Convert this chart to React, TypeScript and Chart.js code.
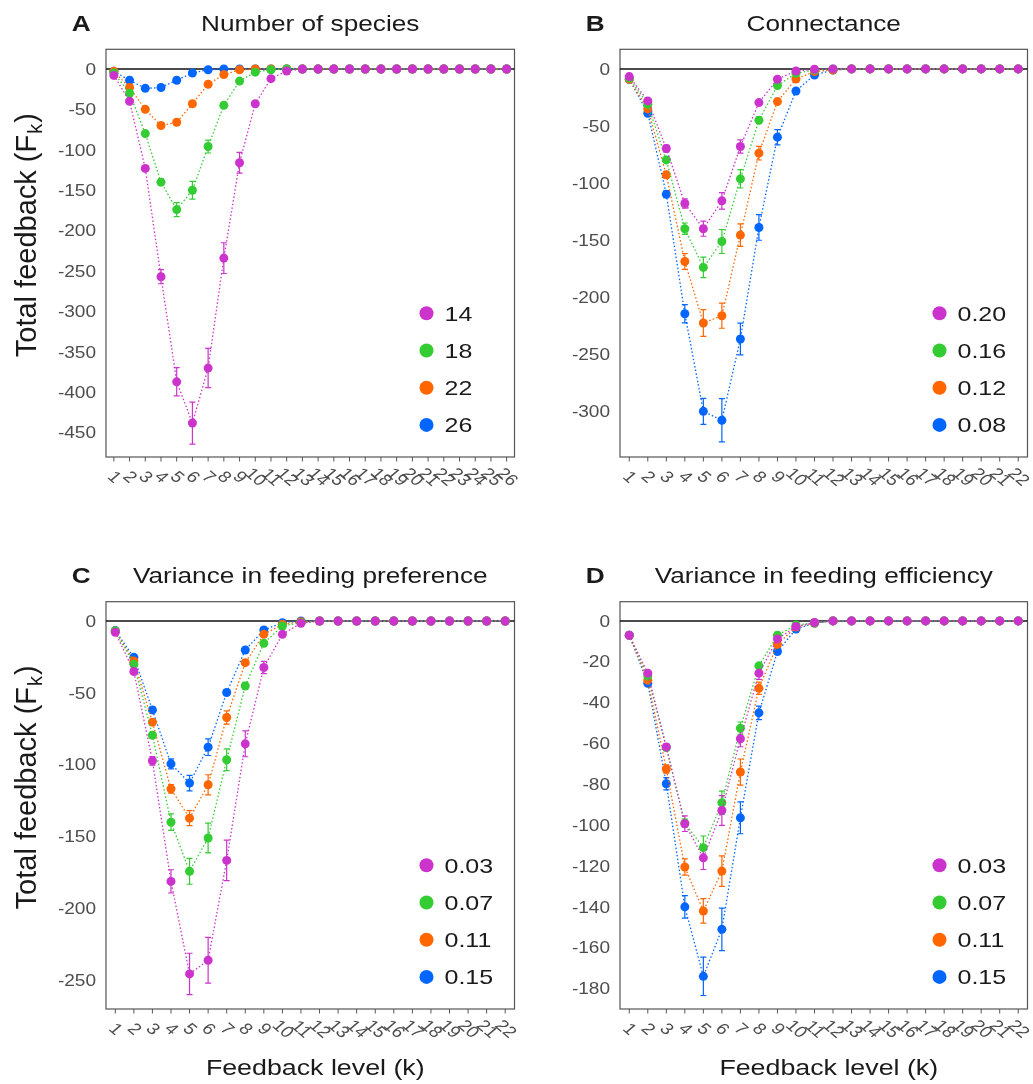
import React, { useEffect, useRef } from "react";
import { Chart, registerables } from "chart.js";
Chart.register(...registerables);

const W = 1033;
const H = 1084;
const PURPLE = "#CC33CC";
const GREEN = "#33CC33";
const ORANGE = "#FF6600";
const BLUE = "#0066FF";
const SERIES_COLORS = [PURPLE, GREEN, ORANGE, BLUE];

// ---------- Panel A: Number of species ----------
const levels26 = ["1","2","3","4","5","6","7","8","9","10","11","12","13","14","15","16","17","18","19","20","21","22","23","24","25","26"];
const speciesNames = ["14", "18", "22", "26"];
const sp14 = [-8, -40, -123, -257, -387, -438, -370, -234, -116, -43, -12, -2.5, 0, 0, 0, 0, 0, 0, 0, 0, 0, 0, 0, 0, 0, 0];
const sp14Err = [1, 2, 3, 8.7, 17.5, 26, 24.3, 19, 12.8, 2, 1, 0, 0, 0, 0, 0, 0, 0, 0, 0, 0, 0, 0, 0, 0, 0];
const sp18 = [-5, -30, -80, -140, -174, -150, -96, -45, -15, -4, -1, 0, 0, 0, 0, 0, 0, 0, 0, 0, 0, 0, 0, 0, 0, 0];
const sp18Err = [0.5, 1, 2, 4, 8.6, 11, 8, 3, 1.5, 1, 0, 0, 0, 0, 0, 0, 0, 0, 0, 0, 0, 0, 0, 0, 0, 0];
const sp22 = [-3, -23, -50, -70, -66, -43, -19, -7, -1, 0, 0, 0, 0, 0, 0, 0, 0, 0, 0, 0, 0, 0, 0, 0, 0, 0];
const sp22Err = [0.5, 1, 2, 2.5, 2.5, 2, 1.5, 1, 0.5, 0, 0, 0, 0, 0, 0, 0, 0, 0, 0, 0, 0, 0, 0, 0, 0, 0];
const sp26 = [-3, -14, -24, -23, -14, -5, -1, 0, 0, 0, 0, 0, 0, 0, 0, 0, 0, 0, 0, 0, 0, 0, 0, 0, 0, 0];
const sp26Err = [0.5, 1, 1.5, 1.5, 1.5, 1, 0.5, 0, 0, 0, 0, 0, 0, 0, 0, 0, 0, 0, 0, 0, 0, 0, 0, 0, 0, 0];
const ticksA = [0, -50, -100, -150, -200, -250, -300, -350, -400, -450];

// ---------- Panel B: Connectance ----------
const levels22 = ["1","2","3","4","5","6","7","8","9","10","11","12","13","14","15","16","17","18","19","20","21","22"];
const connNames = ["0.20", "0.16", "0.12", "0.08"];
const con020 = [-6.7, -28, -69.7, -117.9, -140, -115.6, -68, -29.5, -9, -1.8, -0.3, 0, 0, 0, 0, 0, 0, 0, 0, 0, 0, 0];
const con020Err = [0.5, 1, 3, 4, 6.6, 7.3, 5.8, 2, 1, 0, 0, 0, 0, 0, 0, 0, 0, 0, 0, 0, 0, 0];
const con016 = [-8, -30.9, -79.7, -140, -173.9, -151.2, -96.3, -44.9, -14.6, -3.8, -0.9, 0, 0, 0, 0, 0, 0, 0, 0, 0, 0, 0];
const con016Err = [0.5, 1, 2, 5, 9, 10.5, 8, 3, 2, 0.5, 0, 0, 0, 0, 0, 0, 0, 0, 0, 0, 0, 0];
const con012 = [-9, -35, -92.8, -168.7, -222.6, -216.2, -145.6, -73.8, -28.6, -8.8, -2.3, -0.9, 0, 0, 0, 0, 0, 0, 0, 0, 0, 0];
const con012Err = [0.5, 1, 3, 7, 11.7, 11, 9.8, 6, 2, 1, 0, 0, 0, 0, 0, 0, 0, 0, 0, 0, 0, 0];
const con008 = [-9, -38.8, -109.7, -214.5, -300, -307.8, -236.6, -138.9, -59.8, -19.3, -5.3, -0.9, 0, 0, 0, 0, 0, 0, 0, 0, 0, 0];
const con008Err = [0.5, 1.5, 3, 8, 11.4, 19, 13.9, 11.2, 6.7, 2, 0.5, 0, 0, 0, 0, 0, 0, 0, 0, 0, 0, 0];
const ticksB = [0, -50, -100, -150, -200, -250, -300];

// ---------- Panel C: Variance in feeding preference ----------
const prefNames = ["0.03", "0.07", "0.11", "0.15"];
const pref003 = [-7.9, -35.2, -97.3, -181.2, -245.6, -236.1, -166.6, -85.5, -32.4, -9.3, -1.6, 0, 0, 0, 0, 0, 0, 0, 0, 0, 0, 0];
const pref003Err = [0.5, 1, 3, 8.1, 14.4, 15.9, 14.1, 9, 4.3, 1, 0, 0, 0, 0, 0, 0, 0, 0, 0, 0, 0, 0];
const pref007 = [-7, -30.1, -79.5, -140, -174.2, -151, -96.6, -45.2, -15.5, -3.5, -1.2, 0, 0, 0, 0, 0, 0, 0, 0, 0, 0, 0];
const pref007Err = [0.5, 1, 2, 5.7, 9, 10.3, 7.6, 2.5, 1, 0.5, 0, 0, 0, 0, 0, 0, 0, 0, 0, 0, 0, 0];
const pref011 = [-7, -27.8, -70.4, -116.8, -137.2, -114, -67.2, -29, -9.3, -2.3, -0.5, 0, 0, 0, 0, 0, 0, 0, 0, 0, 0, 0];
const pref011Err = [0.5, 1, 2, 3, 5.2, 7, 4.6, 2, 1, 0.5, 0, 0, 0, 0, 0, 0, 0, 0, 0, 0, 0, 0];
const pref015 = [-6.7, -25.3, -61.9, -99.4, -112.8, -87.8, -49.8, -20.2, -6.3, -1.2, 0, 0, 0, 0, 0, 0, 0, 0, 0, 0, 0, 0];
const pref015Err = [0.5, 1, 2, 3.5, 5.4, 5.8, 2, 1, 0.5, 0, 0, 0, 0, 0, 0, 0, 0, 0, 0, 0, 0, 0];
const ticksC = [0, -50, -100, -150, -200, -250];

// ---------- Panel D: Variance in feeding efficiency ----------
const effNames = ["0.03", "0.07", "0.11", "0.15"];
const eff003 = [-7, -25.6, -61.7, -99.3, -116, -92.8, -57.7, -25.6, -8.8, -2.8, -0.8, 0, 0, 0, 0, 0, 0, 0, 0, 0, 0, 0];
const eff003Err = [0.3, 1, 1.5, 3.8, 5.7, 7.3, 3.9, 3, 1, 0.5, 0, 0, 0, 0, 0, 0, 0, 0, 0, 0, 0, 0];
const eff007 = [-7, -27, -62, -99, -111, -89, -52.5, -22, -7, -2, -1, 0, 0, 0, 0, 0, 0, 0, 0, 0, 0, 0];
const eff007Err = [0.3, 1, 1.5, 2, 5.7, 5.7, 3, 1, 0.5, 0, 0, 0, 0, 0, 0, 0, 0, 0, 0, 0, 0, 0];
const eff011 = [-7, -29, -72.5, -120.5, -142, -122.5, -74, -33, -11.5, -3, -1, 0, 0, 0, 0, 0, 0, 0, 0, 0, 0, 0];
const eff011Err = [0.3, 1, 2, 4, 6, 7.5, 6.4, 3, 1, 0.5, 0, 0, 0, 0, 0, 0, 0, 0, 0, 0, 0, 0];
const eff015 = [-7, -30.5, -79.7, -140, -174, -151, -96.4, -45, -15, -4, -1, 0, 0, 0, 0, 0, 0, 0, 0, 0, 0, 0];
const eff015Err = [0.3, 1, 3, 5.5, 9.4, 10.4, 7.8, 3.3, 1, 0.5, 0, 0, 0, 0, 0, 0, 0, 0, 0, 0, 0, 0];
const ticksD = [0, -20, -40, -60, -80, -100, -120, -140, -160, -180];

const FONT = '"Liberation Sans", Arial, Helvetica, sans-serif';
const SX = 1.19;

type Panel = {
  letter: string;
  title: string;
  labels: string[];
  names: string[];
  values: number[][];
  errors: number[][];
  yTicks: number[];
  yMin: number;
  yMax: number;
  left: number;
  right: number;
  top: number;
  bottom: number;
  yTitle: boolean;
  xTitle: boolean;
};

const panels: Panel[] = [
  {
    letter: "A", title: "Number of species", labels: levels26, names: speciesNames,
    values: [sp14, sp18, sp22, sp26], errors: [sp14Err, sp18Err, sp22Err, sp26Err],
    yTicks: ticksA, yMin: -480, yMax: 24.3,
    left: 106, right: 514.5, top: 49.3, bottom: 457, yTitle: true, xTitle: false,
  },
  {
    letter: "B", title: "Connectance", labels: levels22, names: connNames,
    values: [con020, con016, con012, con008], errors: [con020Err, con016Err, con012Err, con008Err],
    yTicks: ticksB, yMin: -340, yMax: 17.2,
    left: 620, right: 1027.5, top: 49.3, bottom: 457, yTitle: false, xTitle: false,
  },
  {
    letter: "C", title: "Variance in feeding preference", labels: levels22, names: prefNames,
    values: [pref003, pref007, pref011, pref015], errors: [pref003Err, pref007Err, pref011Err, pref015Err],
    yTicks: ticksC, yMin: -270, yMax: 13.4,
    left: 106, right: 514.5, top: 601.7, bottom: 1009, yTitle: true, xTitle: true,
  },
  {
    letter: "D", title: "Variance in feeding efficiency", labels: levels22, names: effNames,
    values: [eff003, eff007, eff011, eff015], errors: [eff003Err, eff007Err, eff011Err, eff015Err],
    yTicks: ticksD, yMin: -190, yMax: 9.4,
    left: 620, right: 1027.5, top: 601.7, bottom: 1009, yTitle: false, xTitle: true,
  },
];

function sText(ctx: CanvasRenderingContext2D, text: string, x: number, y: number, align: CanvasTextAlign) {
  ctx.save();
  ctx.translate(x, y);
  ctx.scale(SX, 1);
  ctx.textAlign = align;
  ctx.textBaseline = "alphabetic";
  ctx.fillText(text, 0, 0);
  ctx.restore();
}

function makePlugin(p: Panel) {
  return {
    id: "panelDeco" + p.letter,
    beforeDatasetsDraw(chart: any) {
      const ctx: CanvasRenderingContext2D = chart.ctx;
      const a = chart.chartArea;
      const xs = chart.scales.x;
      const ys = chart.scales.y;
      ctx.save();
      // panel border
      ctx.strokeStyle = "#555555";
      ctx.lineWidth = 1.2;
      ctx.strokeRect(a.left, a.top, a.right - a.left, a.bottom - a.top);
      // zero line
      const y0 = ys.getPixelForValue(0);
      ctx.strokeStyle = "#111111";
      ctx.lineWidth = 1.5;
      ctx.beginPath();
      ctx.moveTo(a.left, y0);
      ctx.lineTo(a.right, y0);
      ctx.stroke();
      // error bars
      for (let s = p.values.length - 1; s >= 0; s--) {
        ctx.strokeStyle = SERIES_COLORS[s];
        ctx.lineWidth = 1.2;
        const vals = p.values[s];
        const errs = p.errors[s];
        for (let i = 0; i < vals.length; i++) {
          const e = errs[i];
          if (!e) continue;
          const px = xs.getPixelForValue(i);
          const yt = ys.getPixelForValue(vals[i] + e);
          const yb = ys.getPixelForValue(vals[i] - e);
          ctx.beginPath();
          ctx.moveTo(px, yt);
          ctx.lineTo(px, yb);
          ctx.moveTo(px - 3, yt);
          ctx.lineTo(px + 3, yt);
          ctx.moveTo(px - 3, yb);
          ctx.lineTo(px + 3, yb);
          ctx.stroke();
        }
      }
      // x ticks and labels
      ctx.strokeStyle = "#555555";
      ctx.lineWidth = 1;
      ctx.fillStyle = "#4d4d4d";
      ctx.font = "16px " + FONT;
      p.labels.forEach((lab, i) => {
        const px = xs.getPixelForValue(i);
        ctx.beginPath();
        ctx.moveTo(px, a.bottom);
        ctx.lineTo(px, a.bottom + 4.5);
        ctx.stroke();
        ctx.save();
        ctx.translate(px, a.bottom + 20.5);
        ctx.scale(SX, 1);
        ctx.rotate(Math.PI / 4);
        ctx.textAlign = "center";
        ctx.textBaseline = "middle";
        ctx.fillText(lab, 0, 0);
        ctx.restore();
      });
      // y tick labels
      p.yTicks.forEach((t) => {
        const py = ys.getPixelForValue(t);
        sText(ctx, String(t), a.left - 10, py + 16 * 0.358, "right");
      });
      ctx.restore();
    },
    afterDraw(chart: any) {
      const ctx: CanvasRenderingContext2D = chart.ctx;
      const a = chart.chartArea;
      ctx.save();
      // legend
      p.names.forEach((nm, s) => {
        const cy = a.bottom - 143.7 + s * 37.2;
        const cx = a.right - 88;
        ctx.fillStyle = SERIES_COLORS[s];
        ctx.beginPath();
        ctx.arc(cx, cy, 7, 0, Math.PI * 2);
        ctx.fill();
        ctx.fillStyle = "#1a1a1a";
        ctx.font = "21px " + FONT;
        sText(ctx, nm, cx + 18, cy + 21 * 0.358, "left");
      });
      // panel title and letter
      const cxPlot = (a.left + a.right) / 2;
      ctx.fillStyle = "#1a1a1a";
      ctx.font = "22px " + FONT;
      sText(ctx, p.title, cxPlot, a.top - 18.3, "center");
      ctx.font = "bold 22px " + FONT;
      sText(ctx, p.letter, a.left - 34.3, a.top - 18.3, "left");
      // x title
      if (p.xTitle) {
        ctx.font = "22.5px " + FONT;
        sText(ctx, "Feedback level (k)", cxPlot + 5, a.bottom + 66, "center");
      }
      // y title
      if (p.yTitle) {
        const fs = 29;
        const sub = 20;
        const main = "Total feedback (F";
        ctx.save();
        ctx.translate(36, (a.top + a.bottom) / 2 - 18);
        ctx.rotate(-Math.PI / 2);
        ctx.textBaseline = "alphabetic";
        ctx.textAlign = "left";
        ctx.font = fs + "px " + FONT;
        const w1 = ctx.measureText(main).width;
        const w3 = ctx.measureText(")").width;
        ctx.font = sub + "px " + FONT;
        const w2 = ctx.measureText("k").width;
        const total = w1 + w2 + w3 + 2;
        let x0 = -total / 2;
        ctx.font = fs + "px " + FONT;
        ctx.fillText(main, x0, 0);
        x0 += w1 + 1;
        ctx.font = sub + "px " + FONT;
        ctx.fillText("k", x0, 6);
        x0 += w2 + 1;
        ctx.font = fs + "px " + FONT;
        ctx.fillText(")", x0, 0);
        ctx.restore();
      }
      ctx.restore();
    },
  };
}

function PanelChart({ p }: { p: Panel }) {
  const ref = useRef<HTMLCanvasElement | null>(null);
  useEffect(() => {
    if (!ref.current) return;
    const chart = new Chart(ref.current, {
      type: "line",
      data: {
        labels: p.labels,
        datasets: p.values.map((vals, s) => ({
          label: p.names[s],
          data: vals,
          borderColor: SERIES_COLORS[s],
          backgroundColor: SERIES_COLORS[s],
          pointBackgroundColor: SERIES_COLORS[s],
          pointBorderColor: SERIES_COLORS[s],
          pointBorderWidth: 0,
          pointRadius: 4.5,
          borderWidth: 1.3,
          borderDash: [1.5, 2.2],
          fill: false,
          tension: 0,
        })),
      },
      options: {
        responsive: false,
        animation: false,
        devicePixelRatio: 1,
        events: [],
        layout: { padding: { left: p.left, top: p.top, right: W - p.right, bottom: H - p.bottom } },
        scales: {
          x: { type: "category", offset: true, display: false },
          y: { type: "linear", min: p.yMin, max: p.yMax, display: false },
        },
        plugins: { legend: { display: false }, tooltip: { enabled: false }, title: { display: false } },
      } as any,
      plugins: [makePlugin(p) as any],
    });
    return () => chart.destroy();
  }, [p]);
  return (
    <canvas
      ref={ref}
      width={W}
      height={H}
      style={{ position: "absolute", left: 0, top: 0, width: W, height: H }}
    />
  );
}

export default function App() {
  return (
    <div style={{ position: "absolute", left: 0, top: 0, width: W, height: H, background: "#ffffff", overflow: "hidden" }}>
      {panels.map((p) => (
        <PanelChart key={p.letter} p={p} />
      ))}
    </div>
  );
}
